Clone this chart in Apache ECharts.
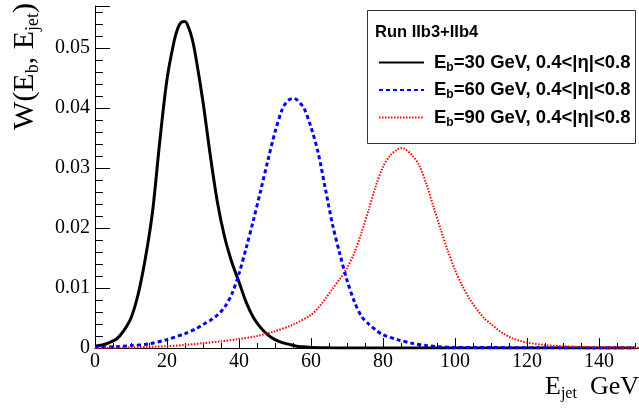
<!DOCTYPE html>
<html><head><meta charset="utf-8">
<script src="https://cdn.jsdelivr.net/npm/echarts@6/dist/echarts.min.js"></script>
<style>html,body{margin:0;padding:0;background:#fff}#c{width:639px;height:411px}</style>
</head><body><div id="c"></div>
<script>
// ---- data ----
const xTicks = [0, 20, 40, 60, 80, 100, 120, 140];
const yTicks = [0, 0.01, 0.02, 0.03, 0.04, 0.05];

const black_E = [0,2,4,6,8,10,12,14,16,18,20,22,23,24,25,26,27,28,30,32,34,36,38,40,42,44,46,48,50,52,54,56,58,60,65,70,150];
const black_W = [0.0003,0.0005,0.0009,0.0015,0.0029,0.0050,0.0090,0.0150,0.0228,0.0345,0.0448,0.0512,0.0533,0.0543,0.0544,0.0534,0.0515,0.0485,0.0410,0.0322,0.0243,0.0185,0.0143,0.0110,0.0076,0.0051,0.0034,0.0022,0.0014,0.0009,0.0006,0.0003,0.0002,0.0001,0.00003,0,0];

const blue_E = [0,5,10,15,20,25,28,30,32,34,36,38,40,42,44,46,48,50,52,53,54,55,56,58,60,62,64,66,68,70,72,74,76,78,80,84,88,92,96,100,150];
const blue_W = [0.0001,0.0002,0.0004,0.0007,0.0014,0.0024,0.0032,0.0039,0.0046,0.0055,0.0068,0.0090,0.0124,0.0167,0.0213,0.0262,0.0312,0.0360,0.0398,0.0408,0.0414,0.0416,0.0414,0.0400,0.0368,0.0325,0.0265,0.0205,0.0157,0.0113,0.0078,0.0053,0.0040,0.0030,0.0022,0.0014,0.0008,0.0004,0.0002,0.0001,0];

const red_E = [0,10,15,20,25,30,35,40,45,50,55,60,62,64,66,68,70,72,74,76,78,80,82,84,85,86,88,90,92,94,96,98,100,102,104,106,108,110,112,114,116,118,120,125,130,140,151];
const red_W = [0,0.0001,0.0002,0.0003,0.0005,0.0008,0.0011,0.0015,0.0020,0.0028,0.0039,0.0055,0.0067,0.0082,0.0099,0.0115,0.0133,0.0158,0.0192,0.0230,0.0270,0.0302,0.0321,0.0331,0.0333,0.0332,0.0322,0.0305,0.0274,0.0236,0.0198,0.0162,0.0130,0.0104,0.0082,0.0065,0.0050,0.0040,0.0030,0.0022,0.0016,0.0012,0.0009,0.0005,0.0003,0.0001,0.00005];

const seriesNames = ['E{s|b}=30 GeV, 0.4<|η|<0.8', 'E{s|b}=60 GeV, 0.4<|η|<0.8', 'E{s|b}=90 GeV, 0.4<|η|<0.8'];
const legendTitle = 'Run IIb3+IIb4';

const zip = (a, b) => a.map((v, i) => [v, b[i]]);
const serif = '"Liberation Serif", "DejaVu Serif", serif';
const sans = '"Liberation Sans", Arial, sans-serif';

const chart = echarts.init(document.getElementById('c'), null, {renderer: 'canvas'});
chart.setOption({
  animation: false,
  backgroundColor: '#fff',
  grid: {left: 95, right: 0, top: 6, bottom: 63, containLabel: false},
  xAxis: [{
    type: 'value', min: 0, max: 151.1, interval: 20,
    axisLine: {show: true, onZero: false, lineStyle: {color: '#000', width: 1}},
    axisTick: {show: true, inside: true, length: 10, lineStyle: {color: '#000'}},
    minorTick: {show: true, splitNumber: 4, length: 5, lineStyle: {color: '#000'}},
    splitLine: {show: false},
    axisLabel: {color: '#000', fontFamily: serif, fontSize: 20, margin: 4,
      customValues: xTicks, formatter: v => String(v)}
  }, {
    type: 'value', position: 'top', min: 0, max: 151.1,
    axisLine: {show: true, lineStyle: {color: '#000', width: 1}},
    axisTick: {show: false}, axisLabel: {show: false}, splitLine: {show: false}
  }],
  yAxis: {
    type: 'value', min: 0, max: 0.057, interval: 0.01,
    axisLine: {show: true, onZero: false, lineStyle: {color: '#000', width: 1}},
    axisTick: {show: true, inside: true, length: 15, lineStyle: {color: '#000'}},
    minorTick: {show: true, splitNumber: 5, length: 8, lineStyle: {color: '#000'}},
    splitLine: {show: false},
    axisLabel: {color: '#000', fontFamily: serif, fontSize: 20, margin: 5,
      customValues: yTicks, formatter: v => String(parseFloat(v.toFixed(3)))}
  },
  legend: {
    orient: 'vertical', left: 373, top: 48, itemWidth: 45, itemHeight: 14, itemGap: 7,
    data: seriesNames,
    itemStyle: {opacity: 0},
    textStyle: {fontFamily: sans, fontWeight: 'bold', fontSize: 18.5, lineHeight: 18, color: '#000', padding: [0,0,0,5],
      rich: {s: {fontFamily: sans, fontWeight: 'bold', fontSize: 12, color: '#000', padding: [10,0,0,0]}}}
  },
  graphic: [
    {type: 'rect', z: 3, shape: {x: 367.5, y: 10.5, width: 268, height: 133},
      style: {fill: '#fff', stroke: '#333', lineWidth: 1}},
    {type: 'text', z: 4, x: 375, y: 32,
      style: {text: legendTitle, font: 'bold 16.5px ' + sans, fill: '#000', textVerticalAlign: 'middle'}},
    {type: 'text', z: 4, x: 25, y: 3, rotation: Math.PI / 2,
      style: {text: 'W(E{s|b}, E{s|jet})', fontFamily: serif, fontSize: 30, fill: '#000',
        align: 'right', verticalAlign: 'middle',
        rich: {s: {fontFamily: serif, fontSize: 18, fill: '#000', padding: [16,0,0,0]}}}},
    {type: 'text', z: 4, x: 639, y: 387,
      style: {text: 'E{s|jet}  GeV', fontFamily: serif, fontSize: 26, fill: '#000',
        align: 'right', verticalAlign: 'middle',
        rich: {s: {fontFamily: serif, fontSize: 16, fill: '#000', padding: [14,0,0,0]}}}}
  ],
  series: [
    {name: seriesNames[0], type: 'line', data: zip(black_E, black_W), showSymbol: false, symbol: 'none', smooth: 0.3, z: 5,
      lineStyle: {color: '#000', width: 3}, itemStyle: {color: '#000'}},
    {name: seriesNames[1], type: 'line', data: zip(blue_E, blue_W), showSymbol: false, symbol: 'none', smooth: 0.3, z: 5,
      lineStyle: {color: '#0000ff', width: 3, type: [4, 3]}, itemStyle: {color: '#0000ff'}},
    {name: seriesNames[2], type: 'line', data: zip(red_E, red_W), showSymbol: false, symbol: 'none', smooth: 0.3, z: 5,
      lineStyle: {color: '#ff0000', width: 2, type: [1.5, 1.5]}, itemStyle: {color: '#ff0000'}}
  ]
});
</script></body></html>
